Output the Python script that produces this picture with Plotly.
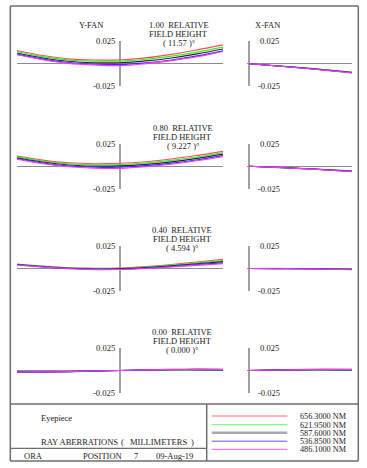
import plotly.graph_objects as go

W, H = 367, 468

# ---------------- data ----------------
wavelengths = ["656.3000 NM", "621.9500 NM", "587.6000 NM", "536.8500 NM", "486.1000 NM"]
curve_colors = ["#ff4d4d", "#33ee33", "#262626", "#3333ff", "#ff33ff"]
legend_colors = ["#ff6666", "#66ff66", "#aaaaaa", "#5555ff", "#ff55ff"]
legend_widths = [1, 1, 2.5, 1, 1]

field_labels = ["1.00", "0.80", "0.40", "0.00"]
field_angles = ["( 11.57 )°", "( 9.227 )°", "( 4.594 )°", "( 0.000 )°"]

y_pupil = [-1.0, -0.75, -0.5, -0.25, 0.0, 0.25, 0.5, 0.75, 1.0]
x_pupil = [0.0, 0.25, 0.5, 0.75, 1.0]

# Y-fan values (mm) per field, per wavelength (656, 622, 588, 537, 486)
yfan_f100 = [
    [0.0148, 0.0092, 0.0055, 0.0042, 0.0043, 0.0066, 0.0105, 0.0155, 0.0210],
    [0.0137, 0.0080, 0.0043, 0.0030, 0.0030, 0.0050, 0.0085, 0.0130, 0.0185],
    [0.0120, 0.0065, 0.0028, 0.0012, 0.0012, 0.0032, 0.0065, 0.0110, 0.0165],
    [0.0108, 0.0052, 0.0014, -0.0005, -0.0008, 0.0010, 0.0043, 0.0088, 0.0144],
    [0.0100, 0.0045, 0.0005, -0.0013, -0.0020, 0.0002, 0.0035, 0.0078, 0.0137],
]
yfan_f080 = [
    [0.0113, 0.0068, 0.0038, 0.0028, 0.0032, 0.0050, 0.0080, 0.0120, 0.0165],
    [0.0104, 0.0058, 0.0027, 0.0016, 0.0019, 0.0036, 0.0065, 0.0103, 0.0150],
    [0.0094, 0.0046, 0.0014, 0.0002, 0.0004, 0.0020, 0.0048, 0.0087, 0.0134],
    [0.0085, 0.0036, 0.0003, -0.0012, -0.0010, 0.0006, 0.0034, 0.0072, 0.0118],
    [0.0077, 0.0028, -0.0006, -0.0022, -0.0024, -0.0006, 0.0022, 0.0060, 0.0105],
]
yfan_f040 = [
    [0.0050, 0.0028, 0.0010, 0.0003, 0.0006, 0.0022, 0.0045, 0.0072, 0.0102],
    [0.0047, 0.0025, 0.0007, -0.0001, 0.0002, 0.0017, 0.0038, 0.0062, 0.0088],
    [0.0044, 0.0021, 0.0003, -0.0005, -0.0003, 0.0010, 0.0030, 0.0053, 0.0076],
    [0.0041, 0.0018, 0.0000, -0.0009, -0.0008, 0.0004, 0.0022, 0.0044, 0.0062],
    [0.0039, 0.0016, -0.0002, -0.0012, -0.0011, 0.0000, 0.0017, 0.0035, 0.0052],
]
yfan_f000 = [
    [-0.0012, -0.0013, -0.0011, -0.0006, 0.0, 0.0007, 0.0012, 0.0013, 0.0012],
    [-0.0014, -0.0014, -0.0012, -0.0007, 0.0, 0.0008, 0.0013, 0.0014, 0.0013],
    [-0.0018, -0.0016, -0.0012, -0.0006, 0.0, 0.0006, 0.0011, 0.0012, 0.0010],
    [-0.0020, -0.0018, -0.0013, -0.0007, 0.0, 0.0006, 0.0010, 0.0010, 0.0007],
    [-0.0016, -0.0015, -0.0012, -0.0006, 0.0, 0.0007, 0.0011, 0.0012, 0.0011],
]

# X-fan values (mm)
xfan_f100 = [
    [0.0, -0.0020, -0.0042, -0.0066, -0.0092],
    [0.0, -0.0021, -0.0043, -0.0068, -0.0095],
    [0.0, -0.0021, -0.0044, -0.0070, -0.0097],
    [0.0, -0.0022, -0.0045, -0.0071, -0.0100],
    [0.0, -0.0022, -0.0046, -0.0073, -0.0102],
]
xfan_f080 = [
    [0.0, -0.0011, -0.0024, -0.0038, -0.0052],
    [0.0, -0.0012, -0.0025, -0.0039, -0.0054],
    [0.0, -0.0012, -0.0025, -0.0040, -0.0056],
    [0.0, -0.0013, -0.0026, -0.0041, -0.0058],
    [0.0, -0.0013, -0.0027, -0.0042, -0.0060],
]
xfan_f040 = [
    [0.0, 0.0001, 0.0000, -0.0002, -0.0004],
    [0.0, 0.0000, -0.0001, -0.0003, -0.0006],
    [0.0, -0.0001, -0.0002, -0.0005, -0.0008],
    [0.0, -0.0001, -0.0003, -0.0007, -0.0011],
    [0.0, -0.0002, -0.0005, -0.0009, -0.0014],
]
xfan_f000 = [
    [0.0, 0.0006, 0.0011, 0.0013, 0.0013],
    [0.0, 0.0007, 0.0012, 0.0014, 0.0013],
    [0.0, 0.0005, 0.0010, 0.0011, 0.0010],
    [0.0, 0.0005, 0.0009, 0.0009, 0.0007],
    [0.0, 0.0006, 0.0010, 0.0012, 0.0011],
]

yfans = [yfan_f100, yfan_f080, yfan_f040, yfan_f000]
xfans = [xfan_f100, xfan_f080, xfan_f040, xfan_f000]

# ---------------- layout helpers ----------------
def px(x):
    return x / W

def py(y):
    return 1 - y / H

FONT = "Liberation Serif"
TXT = "#222222"
zero_rows = [63.8, 166.2, 268.5, 370.5]
title_cx = [178.5, 182.8, 182.3, 182.0]
half = 22.5

fig = go.Figure()
layout = dict(
    width=W, height=H, margin=dict(l=0, r=0, t=0, b=0),
    paper_bgcolor="white", plot_bgcolor="rgba(0,0,0,0)", showlegend=False,
)
annotations = []
shapes = []

def ann(text, x, y, xanchor="center", size=8.5):
    annotations.append(dict(text=text, x=px(x), y=py(y), xref="paper", yref="paper",
                            xanchor=xanchor, yanchor="middle", showarrow=False,
                            font=dict(family=FONT, size=size, color=TXT)))

ax_idx = 1
for k in range(4):
    z = zero_rows[k]
    ydom = [py(z + half), py(z - half)]
    for panel in ("Y", "X"):
        sfx = "" if ax_idx == 1 else str(ax_idx)
        if panel == "Y":
            xdom = [px(17), px(223)]
            xr = [-1, 1]
            xs = y_pupil
            vals = yfans[k]
        else:
            xdom = [px(249 - 0.02 * 103), px(352)]
            xr = [-0.02, 1]
            xs = x_pupil
            vals = xfans[k]
        layout["xaxis" + sfx] = dict(domain=xdom, range=xr, anchor="y" + sfx,
                                     showgrid=False, showticklabels=False, ticks="",
                                     showline=False, zeroline=True, zerolinecolor="#a0a0a0",
                                     zerolinewidth=2, fixedrange=True)
        layout["yaxis" + sfx] = dict(domain=ydom, range=[-0.025, 0.025], anchor="x" + sfx,
                                     showgrid=False, showticklabels=False, ticks="",
                                     showline=False, zeroline=True, zerolinecolor="#8c8c8c",
                                     zerolinewidth=1, fixedrange=True)
        for i in range(5):
            fig.add_trace(go.Scatter(x=xs, y=vals[i], mode="lines",
                                     line=dict(color=curve_colors[i], width=1.1, shape="spline"),
                                     xaxis="x" + sfx, yaxis="y" + sfx, hoverinfo="skip"))
        ax_idx += 1

    ann("0.025", 116.5, z - half, xanchor="right")
    ann("-0.025", 116.5, z + half, xanchor="right")
    ann("0.025", 257.5, z - half, xanchor="left")
    ann("-0.025", 255.5, z + half, xanchor="left")
    tc = title_cx[k]
    ann(field_labels[k] + "\u00a0\u00a0RELATIVE", tc, z - 38.5)
    ann("FIELD HEIGHT", tc, z - 29.5)
    ann(field_angles[k], tc, z - 20.5)

ann("Y-FAN", 90.5, 25)
ann("X-FAN", 267, 25)

# bottom box text
ann("Eyepiece", 39, 418.3, xanchor="left")
ann("RAY ABERRATIONS", 39.3, 442.3, xanchor="left")
ann("(", 119.3, 442.3, xanchor="left")
ann("MILLIMETERS", 128.3, 442.3, xanchor="left")
ann(")", 189.3, 442.3, xanchor="left")
ann("ORA", 22, 456, xanchor="left")
ann("POSITION", 80.7, 456, xanchor="left")
ann("7", 131.7, 456, xanchor="left")
ann("09-Aug-19", 154, 456, xanchor="left")

leg_y = [416, 424.7, 432.7, 441.2, 449.3]
for i, lab in enumerate(wavelengths):
    shapes.append(dict(type="line", xref="paper", yref="paper",
                       x0=px(211.7), x1=px(287.3), y0=py(leg_y[i]), y1=py(leg_y[i]),
                       line=dict(color=legend_colors[i], width=legend_widths[i])))
    ann(lab, 298.3, leg_y[i] + 0.5, xanchor="left", size=8.2)

FR = "#6e6e6e"
def seg(x0, y0, x1, y1, w=1.5, c=FR):
    shapes.append(dict(type="line", xref="paper", yref="paper",
                       x0=px(x0), y0=py(y0), x1=px(x1), y1=py(y1),
                       line=dict(color=c, width=w)))

seg(10.3, 6, 358.3, 6)
seg(10.3, 461, 358.3, 461)
seg(10.3, 6, 10.3, 461)
seg(358.3, 6, 358.3, 461)
seg(10.3, 404, 358.3, 404)
seg(206.7, 404, 206.7, 461)
seg(10.3, 448.3, 206.7, 448.3, w=1.2)

layout["annotations"] = annotations
layout["shapes"] = shapes
fig.update_layout(**layout)
fig.write_html("out.html", config={"displayModeBar": False},
               post_script="document.body.style.margin='0';document.body.style.overflow='hidden';")
